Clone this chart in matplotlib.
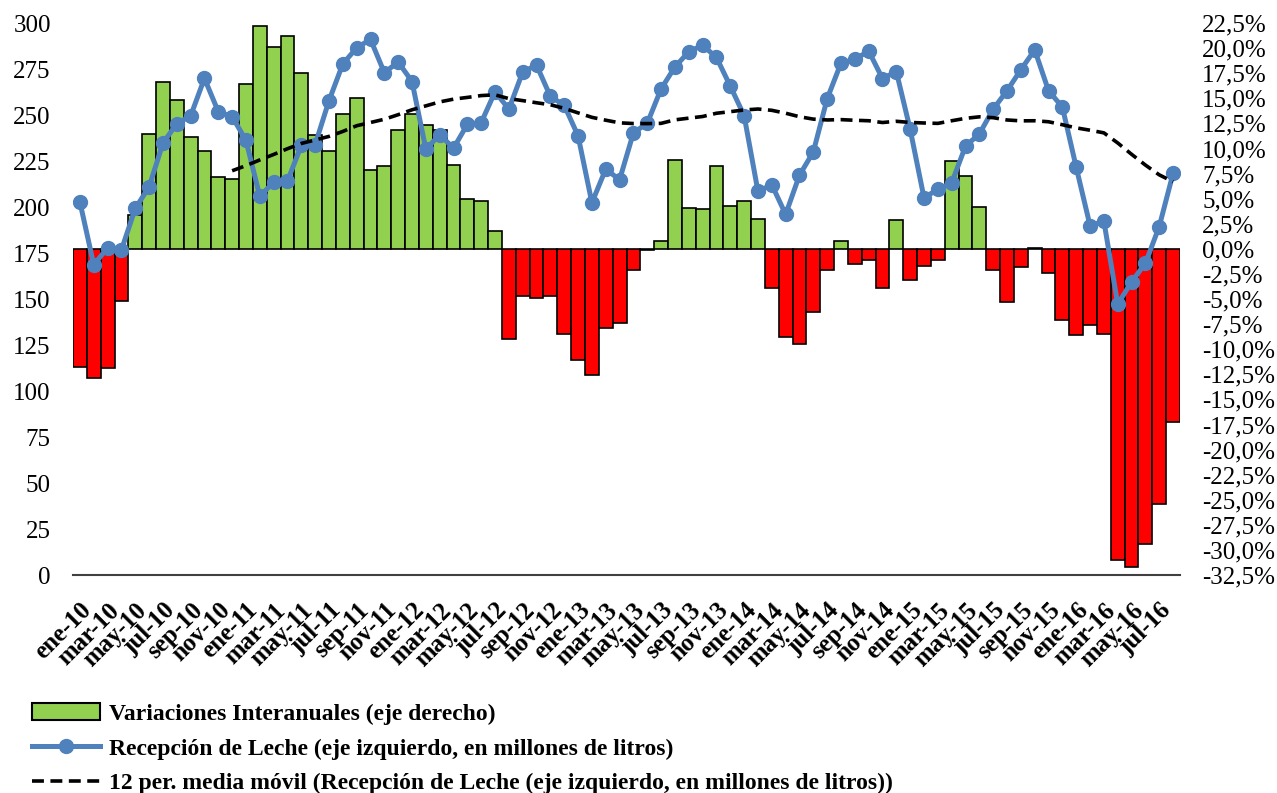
import numpy as np
import pandas as pd
import matplotlib
matplotlib.use("Agg")
import matplotlib.pyplot as plt
from matplotlib.patches import Patch
from matplotlib.lines import Line2D
from matplotlib.ticker import FuncFormatter, MultipleLocator

plt.rcParams['font.family'] = ['Liberation Serif', 'DejaVu Serif']

#-------data-------
mesesAbr = ["ene", "feb", "mar", "abr", "may", "jun", "jul", "ago", "sep", "oct", "nov", "dic"]
anios = ["10", "11", "12", "13", "14", "15", "16"]
meses = [m + "-" + a for a in anios for m in mesesAbr][:80]  # ene-10 .. ago-16

# Recepcion de leche (millones de litros), eje izquierdo
recepcion = [
    202.7, 168.6, 177.8, 176.7, 199.2, 211.0, 234.7, 245.3, 249.5, 269.9, 251.8, 249.1,
    236.2, 205.8, 213.5, 214.1, 233.5, 233.9, 257.8, 277.8, 286.5, 291.1, 273.0, 278.8,
    268.2, 231.4, 239.3, 232.0, 244.9, 245.9, 262.6, 253.2, 273.4, 277.1, 260.1, 255.3,
    238.7, 202.3, 220.6, 214.8, 240.3, 245.5, 264.2, 276.1, 284.4, 287.9, 281.3, 265.7,
    249.7, 208.5, 212.1, 196.0, 217.3, 229.9, 258.8, 278.2, 280.2, 284.8, 269.8, 273.6,
    242.2, 205.0, 209.6, 213.1, 233.1, 239.7, 253.2, 263.2, 274.6, 285.4, 263.2, 254.3,
    221.6, 189.8, 192.3, 147.2, 159.3, 169.4, 189.4, 218.3,
]

# Variaciones interanuales (%), eje derecho
variacion = [
    -11.76, -12.83, -11.88, -5.19, 3.32, 11.42, 16.66, 14.86, 11.16, 9.71, 7.15, 6.95,
    16.46, 22.19, 20.09, 21.24, 17.53, 11.34, 9.78, 13.45, 15.05, 7.87, 8.29, 11.80,
    13.45, 12.30, 11.80, 8.37, 4.97, 4.77, 1.80, -8.94, -4.74, -4.93, -4.74, -8.52,
    -11.04, -12.57, -7.87, -7.41, -2.14, -0.10, 0.80, 8.86, 4.09, 3.93, 8.25, 4.24,
    4.81, 3.02, -3.90, -8.82, -9.51, -6.34, -2.14, 0.80, -1.49, -1.15, -3.86, 2.86,
    -3.09, -1.76, -1.15, 8.75, 7.22, 4.20, -2.14, -5.27, -1.83, 0.10, -2.41, -7.10,
    -8.56, -7.60, -8.52, -31.00, -31.74, -29.45, -25.44, -17.23,
]

labelBarras = "Variaciones Interanuales (eje derecho)"
labelLinea = "Recepción de Leche (eje izquierdo, en millones de litros)"
labelMedia = "12 per. media móvil (Recepción de Leche (eje izquierdo, en millones de litros))"

#-------colors-------
verde = "#92D050"
rojo = "#FF0000"
azul = "#4F81BD"

x = np.arange(len(meses))
mediaMovil = pd.Series(recepcion).rolling(12).mean()

#-------plot-------
fig = plt.figure(figsize=(12.77, 7.93), dpi=100)
ax = fig.add_axes([73/1277, 1 - 575/793, (1180 - 73)/1277, (575 - 23)/793])
ax2 = ax.twinx()

colores = [verde if v >= 0 else rojo for v in variacion]
ax2.bar(x, variacion, width=1.0, color=colores, edgecolor="black", linewidth=1.2)
ax2.set_ylim(-32.5, 22.5)
ax2.yaxis.set_major_locator(MultipleLocator(2.5))
ax2.yaxis.set_major_formatter(FuncFormatter(lambda v, p: ("%.1f%%" % v).replace(".", ",")))

ax.plot(x, recepcion, color=azul, linewidth=3.6, marker="o", markersize=10, zorder=3)
ax.plot(x, mediaMovil, color="black", linewidth=2.6, linestyle=(0, (3.3, 1.8)), zorder=4)
ax.set_ylim(0, 300)
ax.yaxis.set_major_locator(MultipleLocator(25))
ax.set_xlim(-0.5, len(meses) - 0.5)

ax.set_zorder(ax2.get_zorder() + 1)
ax.patch.set_visible(False)

ax.set_xticks(x[::2])
ax.set_xticklabels(meses[::2], rotation=45, ha="right", rotation_mode="anchor",
                   fontsize=18, fontweight="bold")

for a in (ax, ax2):
    for s in a.spines.values():
        s.set_visible(False)
ax.spines["bottom"].set_visible(True)
ax.spines["bottom"].set_color("#404040")
ax.spines["bottom"].set_linewidth(1.5)

ax.tick_params(axis="x", length=0, pad=17)
ax.tick_params(axis="y", length=0, pad=16, labelsize=18)
ax2.tick_params(axis="y", length=0, pad=16, labelsize=18)

#-------legend-------
handles = [
    Patch(facecolor=verde, edgecolor="black", linewidth=1.5),
    Line2D([], [], color=azul, linewidth=3.6, marker="o", markersize=10),
    Line2D([], [], color="black", linewidth=2.6, linestyle=(0, (3.3, 1.8))),
]
fig.legend(handles, [labelBarras, labelLinea, labelMedia],
           loc="upper left", bbox_to_anchor=(32/1277, 1 - 703/793),
           frameon=False, borderpad=0, borderaxespad=0,
           handlelength=2.9, handletextpad=0.35, labelspacing=0.57,
           prop={"weight": "bold", "size": 17})

fig.savefig("out.png", dpi=100)
